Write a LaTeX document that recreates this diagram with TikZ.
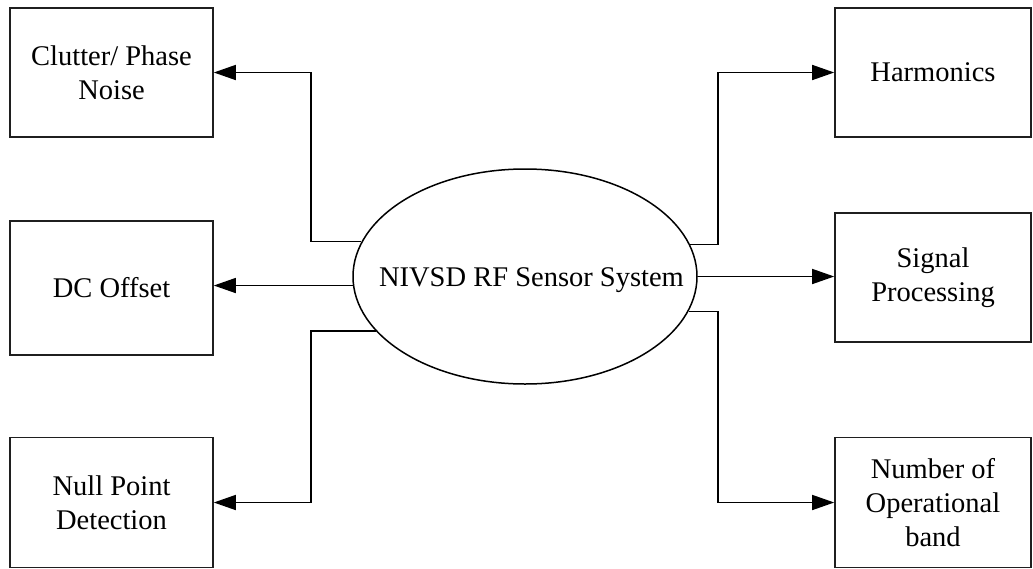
\documentclass[tikz,border=0pt]{standalone}
\usepackage{fontspec}
\setmainfont{Liberation Serif}
\usetikzlibrary{arrows.meta,shapes.geometric}

\begin{document}
\begin{tikzpicture}[x=1pt,y=-1pt,
  lbl/.style={font=\fontsize{28.5}{34}\selectfont, align=center},
  blockbox/.style={lbl, draw=black!88, line width=1.6pt, rectangle, inner sep=0pt},
  leftbox/.style={blockbox, minimum width=203pt},
  rightbox/.style={blockbox, minimum width=196pt},
  core/.style={draw=black, line width=1.5pt, ellipse, inner sep=0pt,
               minimum width=344pt, minimum height=215pt},
  link/.style={draw=black, line width=1.5pt,
               -{Triangle[length=22pt,width=15pt]}}
]
\useasboundingbox (0,0) rectangle (1033,568);

% central system
\node[core] (sys) at (525,276.5) {};
\node[lbl, anchor=base] (systxt) at (531.5,286) {NIVSD RF Sensor System};

% left column
\node[leftbox, minimum height=129pt] (clutter) at (111.5,72.5) {Clutter/ Phase\\Noise};
\node[leftbox, minimum height=134pt] (dc) at (111.5,288) {DC Offset};
\node[leftbox, minimum height=130pt] (null) at (111.5,502.5) {Null Point\\Detection};

% right column
\node[rightbox, minimum height=129pt] (harm) at (933,72.5) {Harmonics};
\node[rightbox, minimum height=129pt] (sig) at (933,277.5) {Signal\\Processing};
\node[rightbox, minimum height=130pt] (num) at (933,502.5) {Number of\\Operational\\band};

% vertical routing lanes
\coordinate (lx) at (311,0);
\coordinate (rx) at (718,0);

% connectors
\draw[link] (sys.168.8) -- (sys.168.8 -| lx) |- (clutter.east);
\draw[link] (sys.183.85) -- (sys.183.85 -| dc.east);
\draw[link] (sys.200.2) -- (sys.200.2 -| lx) |- (null.east);

\draw[link] (sys.11.2) -- (sys.11.2 -| rx) |- (harm.west);
\draw[link] (sys.east) -- (sys.east -| sig.west);
\draw[link] (sys.348.8) -- (sys.348.8 -| rx) |- (num.west);
\end{tikzpicture}
\end{document}
